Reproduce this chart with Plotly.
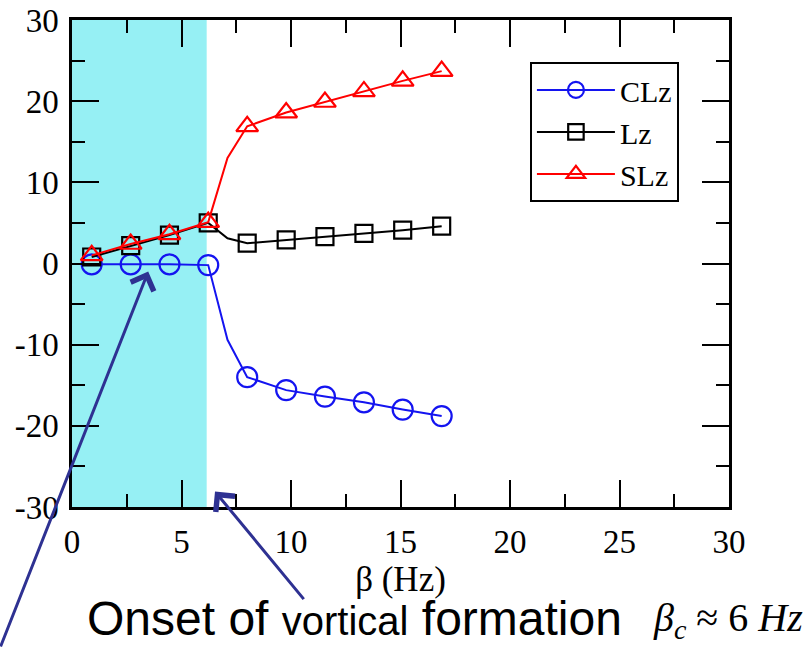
import plotly.graph_objects as go

# Frequency sweep (Hz); the 5th sample is an intermediate point drawn without a marker
beta = [0.9, 2.68, 4.45, 6.22, 7.1, 8.0, 9.78, 11.55, 13.33, 15.1, 16.88]
clz = [-0.1, -0.1, -0.1, -0.2, -9.4, -14.0, -15.6, -16.4, -17.1, -18.0, -18.8]
lz = [0.8, 2.2, 3.5, 5.0, 3.1, 2.5, 2.9, 3.3, 3.7, 4.1, 4.6]
slz = [1.0, 2.4, 3.6, 5.1, 13.0, 16.9, 18.6, 19.9, 21.2, 22.5, 23.7]
marked = [True, True, True, True, False, True, True, True, True, True, True]

beta_c = 6.15  # onset of vortical formation
x_ticks = [0, 5, 10, 15, 20, 25, 30]
y_ticks = [-30, -20, -10, 0, 10, 20, 30]

SERIF = "Liberation Serif, Times New Roman, serif"
NAVY = "#2E3192"

# plot-area geometry in pixels, used to place the notes below the axes
W, H = 808, 648
L, R, T, B = 72, 79, 20, 141
PW, PH = W - L - R, H - T - B


def px_to_paper(px, py):
    return (px - L) / PW, (H - B - py) / PH


def sizes(s):
    return [s if m else 0 for m in marked]


fig = go.Figure()

fig.add_shape(type="rect", xref="x", yref="y", x0=0, x1=beta_c, y0=-30, y1=30,
              fillcolor="#96F0F4", line_width=0, layer="below")

series = [
    ("CLz", clz, "#1414F0", "circle-open", 20),
    ("Lz", lz, "black", "square-open", 17),
    ("SLz", slz, "#FF0000", "triangle-up-open", 19),
]
for name, vals, color, symbol, size in series:
    fig.add_trace(go.Scatter(
        x=beta, y=vals, name=name, mode="lines+markers",
        line=dict(color=color, width=2),
        marker=dict(symbol=symbol, size=sizes(size), color=color, opacity=1,
                    line=dict(color=color, width=2.2)),
    ))

axis_common = dict(
    showline=True, linecolor="black", linewidth=2.5, mirror="ticks",
    ticks="inside", ticklen=27, tickwidth=2, tickcolor="black",
    showgrid=False, zeroline=False, automargin=False,
    tickfont=dict(family=SERIF, size=33, color="black"),
)

fig.update_xaxes(range=[0, 30], tickmode="array", tickvals=x_ticks,
                 ticktext=[str(v) for v in x_ticks],
                 minor=dict(ticks="inside", ticklen=13, tickwidth=2,
                            tickcolor="black", dtick=2.5, showgrid=False),
                 title=dict(text="β (Hz)", font=dict(family=SERIF, size=35, color="black"),
                            standoff=8),
                 ticklabelstandoff=4,
                 **axis_common)
fig.update_yaxes(range=[-30, 30], tickmode="array", tickvals=y_ticks,
                 ticktext=[str(v) for v in y_ticks],
                 minor=dict(ticks="inside", ticklen=13, tickwidth=2,
                            tickcolor="black", dtick=5, showgrid=False),
                 ticklabelstandoff=4,
                 **axis_common)

# Arrows pointing at the flat CLz branch and at the edge of the shaded band
fig.add_annotation(x=3.48, y=-1.0, xref="x", yref="y", text="", showarrow=True,
                   ax=-160, ay=390, arrowhead=4, arrowsize=1.6, arrowwidth=3,
                   arrowcolor=NAVY, standoff=0)
fig.add_annotation(x=6.53, y=-28.1, xref="x", yref="y", text="", showarrow=True,
                   ax=90, ay=109, arrowhead=4, arrowsize=1.6, arrowwidth=3,
                   arrowcolor=NAVY, standoff=0)

nx, ny = px_to_paper(85, 618)
fig.add_annotation(
    x=nx, y=ny, xref="paper", yref="paper",
    xanchor="left", yanchor="middle", showarrow=False,
    text="Onset of <span style='font-size:40px'>vortical</span> formation",
    font=dict(family="Liberation Sans, Arial, sans-serif", size=48, color="black"),
)
bx, by = px_to_paper(805, 620)
fig.add_annotation(
    x=bx, y=by, xref="paper", yref="paper",
    xanchor="right", yanchor="middle", showarrow=False,
    text="<i>β</i><sub><i>c</i></sub> ≈ 6 <i>Hz</i>",
    font=dict(family=SERIF, size=40, color="black"),
)

fig.update_layout(
    width=W, height=H,
    margin=dict(l=L, r=R, t=T, b=B),
    paper_bgcolor="white", plot_bgcolor="white",
    font=dict(family=SERIF, color="black"),
    showlegend=True,
    legend=dict(x=0.697, y=0.914, xanchor="left", yanchor="top",
                bgcolor="white", bordercolor="black", borderwidth=2,
                font=dict(family=SERIF, size=30, color="black"),
                tracegroupgap=0, itemwidth=78),
)

fig.write_html("out.html")
